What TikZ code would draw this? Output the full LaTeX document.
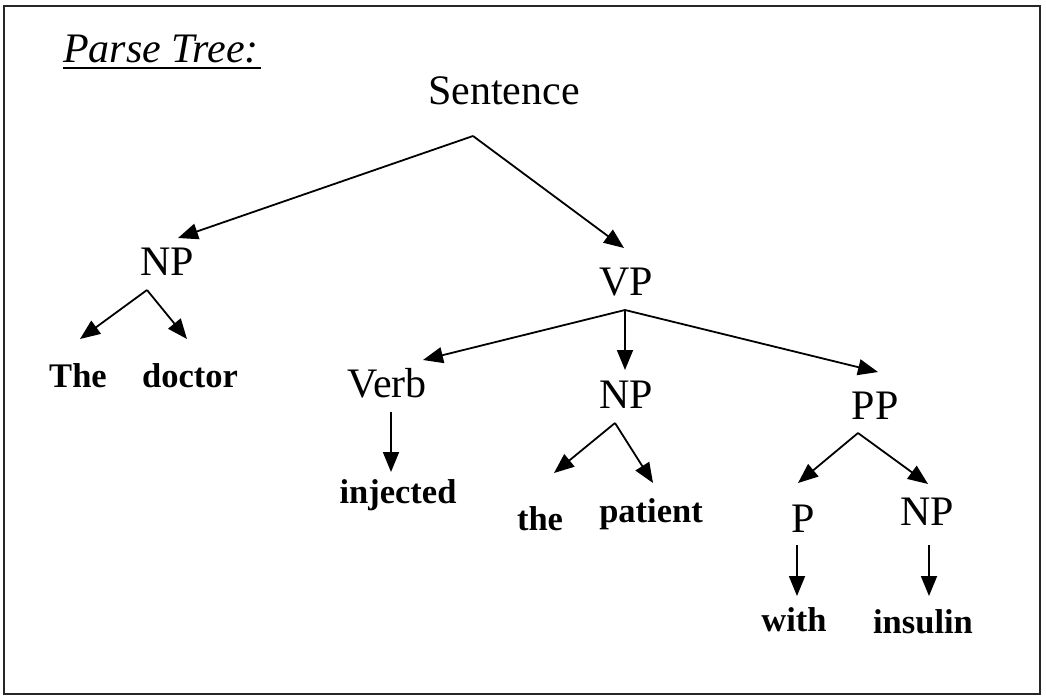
\documentclass[tikz,border=0pt]{standalone}
\usepackage{fontspec}
\setmainfont{Liberation Serif}
\usetikzlibrary{arrows.meta,calc}
\begin{document}
\begin{tikzpicture}[x=1pt,y=-1pt,
  cat/.style={inner sep=0pt, anchor=base, font=\fontsize{42}{48}\selectfont},
  word/.style={inner sep=0pt, anchor=base, font=\fontsize{34.5}{40}\selectfont\bfseries},
  title/.style={inner sep=0pt, anchor=base west, font=\fontsize{42}{50}\selectfont\itshape},
  edge/.style={line width=1.8pt, -{Triangle[length=20pt,width=16pt]}},
  frame/.style={line width=2pt, black!85}]
\useasboundingbox (0,0) rectangle (1046,697);
\draw[frame] (4,6) rectangle (1040,694);

% heading
\node[title] (ttl) at (63,62) {Parse Tree:};
\draw[line width=1.8pt] ($(ttl.base west)+(0,6)$) coordinate (ul1) -- ($(ttl.base east)+(2,6)$) coordinate (ul2);

% category labels
\node[cat] (s)   at (504,104) {Sentence};
\node[cat] (np1) at (167,275) {NP};
\node[cat] (vp)  at (626,295) {VP};
\node[cat] (vb)  at (387,397) {Verb};
\node[cat] (np2) at (626,408) {NP};
\node[cat] (pp)  at (875,419) {PP};
\node[cat] (p)   at (803,532) {P};
\node[cat] (np3) at (927,525) {NP};

% words
\node[word] (w1) at (78,387) {The};
\node[word] (w2) at (190,387) {doctor};
\node[word] (w3) at (398,503) {injected};
\node[word] (w4) at (540,530) {the};
\node[word] (w5) at (651,522) {patient};
\node[word] (w6) at (794,631) {with};
\node[word] (w7) at (923,633) {insulin};

% branch points below each parent
\coordinate (s-a)   at (473,136);
\coordinate (np1-a) at (147,290);
\coordinate (vp-a)  at (625,310);
\coordinate (vb-a)  at (391,412);
\coordinate (np2-a) at (615,423);
\coordinate (pp-a)  at (858,433);
\coordinate (p-a)   at (797,545);
\coordinate (np3-a) at (929,545);

% arrow tips above each child
\coordinate (np1-t) at (178,238);
\coordinate (vp-t)  at (624,248);
\coordinate (w1-t)  at (80,339);
\coordinate (w2-t)  at (187,339);
\coordinate (vb-t)  at (423,360);
\coordinate (np2-t) at (625,370);
\coordinate (pp-t)  at (878,372);
\coordinate (w3-t)  at (391,472);
\coordinate (w4-t)  at (554,473);
\coordinate (w5-t)  at (653,483);
\coordinate (p-t)   at (798,483);
\coordinate (np3-t) at (928,484);
\coordinate (w6-t)  at (797,596);
\coordinate (w7-t)  at (929,596);

\draw[edge] (s-a) -- (np1-t);
\draw[edge] (s-a) -- (vp-t);
\draw[edge] (np1-a) -- (w1-t);
\draw[edge] (np1-a) -- (w2-t);
\draw[edge] (vp-a) -- (vb-t);
\draw[edge] (vp-a) -- (np2-t);
\draw[edge] (vp-a) -- (pp-t);
\draw[edge] (vb-a) -- (w3-t);
\draw[edge] (np2-a) -- (w4-t);
\draw[edge] (np2-a) -- (w5-t);
\draw[edge] (pp-a) -- (p-t);
\draw[edge] (pp-a) -- (np3-t);
\draw[edge] (p-a) -- (w6-t);
\draw[edge] (np3-a) -- (w7-t);
\end{tikzpicture}
\end{document}
